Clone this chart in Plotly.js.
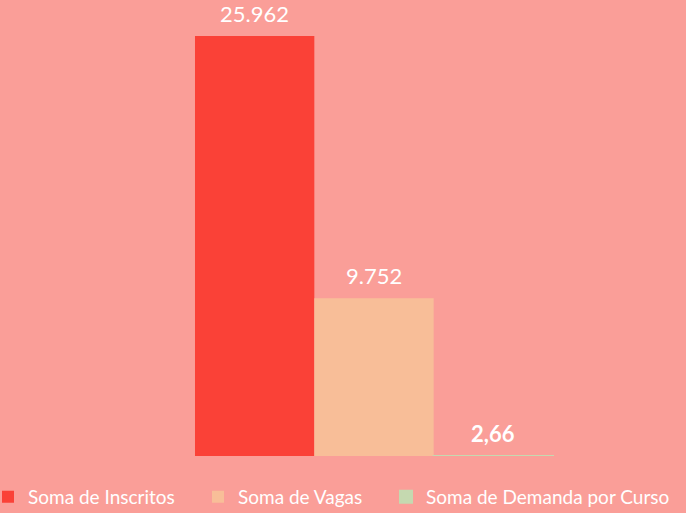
<!DOCTYPE html>
<html>
<head>
<meta charset="utf-8">
<script src="https://cdn.plot.ly/plotly-3.0.1.min.js"></script>
<style>html,body{margin:0;padding:0;background:#FA9E98;}#chart{width:686px;height:513px;}</style>
</head>
<body>
<div id="chart"></div>
<script>
const seriesNames = ["Soma de Inscritos", "Soma de Vagas", "Soma de Demanda por Curso"];
const seriesValues = [25962, 9752, 2.66];
const labels = ["25.962", "9.752", "2,66"];
const colors = ["#FA4137", "#F8BE98", "#C5D9B0"];
const labelBold = [false, false, true];
const legendIds = ["legend", "legend2", "legend3"];
const legendX = [-0.0175, 0.2886, 0.5627];

const traces = seriesNames.map((name, i) => ({
  type: "bar",
  name: name,
  legend: legendIds[i],
  x: [i],
  y: [seriesValues[i]],
  width: [1],
  marker: {color: colors[i], line: {width: i === 2 ? 2 : 0, color: colors[i]}},
  hoverinfo: "none",
  cliponaxis: false
}));

const annotations = seriesNames.map((name, i) => ({
  x: i, y: seriesValues[i], xref: "x", yref: "y",
  text: labelBold[i] ? "<b>" + labels[i] + "</b>" : labels[i],
  showarrow: false, yanchor: "bottom", yshift: 7,
  font: {family: "Lato, 'Open Sans', sans-serif", size: 22, color: "#FFFFFF"}
}));

const layout = {
  width: 686, height: 513,
  paper_bgcolor: "#FA9E98", plot_bgcolor: "#FA9E98",
  margin: {l: 0, r: 0, t: 0, b: 57, autoexpand: false},
  barmode: "group",
  showlegend: true,
  xaxis: {range: [-2.134, 3.6145], visible: false, fixedrange: true},
  yaxis: {range: [0, 28188], visible: false, fixedrange: true},
  annotations: annotations
};
legendIds.forEach((id, i) => {
  layout[id] = {
    orientation: "h", x: legendX[i], y: -0.048, xanchor: "left", yanchor: "top",
    font: {family: "Lato, 'Open Sans', sans-serif", size: 19, color: "#FFFFFF"},
    itemwidth: 30, bgcolor: "rgba(0,0,0,0)"
  };
});

Plotly.newPlot("chart", traces, layout, {displayModeBar: false, staticPlot: true});
</script>
</body>
</html>
